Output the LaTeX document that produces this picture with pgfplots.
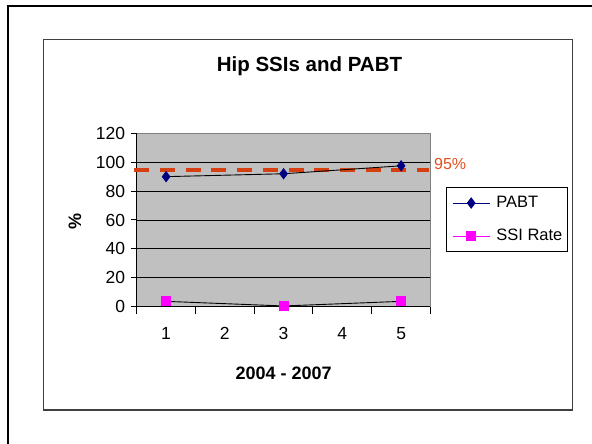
\documentclass[border=0pt]{standalone}
\usepackage{pgfplots}
\pgfplotsset{compat=1.18}
\usepackage{fontspec}
\setmainfont{Liberation Sans}
\definecolor{plotbg}{RGB}{192,192,192}
\definecolor{navy}{RGB}{0,0,128}
\definecolor{pmag}{RGB}{255,0,255}
\definecolor{dashred}{RGB}{214,64,16}
\definecolor{labred}{RGB}{226,80,32}
\definecolor{framegray}{RGB}{64,64,64}
\definecolor{bordergray}{RGB}{128,128,128}
\begin{document}
\begin{tikzpicture}[x=1pt,y=1pt]
\useasboundingbox (0,0) rectangle (592,444);
\draw[line width=2.7pt] (8,-2) -- (8,438) -- (594,438);
\draw[framegray, line width=1.3pt] (43.3,34) rectangle (572.7,404.7);
\begin{axis}[
  at={(136.7pt,137.3pt)}, anchor=south west,
  scale only axis, width=293.8pt, height=173.4pt,
  xmin=0.5, xmax=5.5, ymin=0, ymax=120,
  clip=false,
  axis lines*=left,
  axis line style={black, line width=1pt},
  axis background/.style={fill=plotbg},
  xtick={1,2,3,4,5},
  minor xtick={0.5,1.5,2.5,3.5,4.5,5.5},
  ytick={0,20,40,60,80,100,120},
  tick align=outside,
  major tick length=6pt, minor tick length=7pt,
  every major x tick/.append style={draw=none},
  tick style={black, line width=1pt},
  ymajorgrids,
  major grid style={black, line width=0.9pt},
  /pgf/number format/assume math mode=true,
  ticklabel style={font=\fontsize{17.5}{20}\selectfont},
  xticklabel style={yshift=-11pt, text height=12.5pt, text depth=0pt},
  yticklabel style={xshift=-2pt},
  title={Hip SSIs and PABT},
  title style={at={(axis description cs:0.588,1.323)}, anchor=base, font=\fontsize{20.5}{24}\selectfont\bfseries},
  xlabel={2004 - 2007},
  xlabel style={at={(axis description cs:0.5,-0.417)}, anchor=base, font=\fontsize{18}{21}\selectfont\bfseries},
  ylabel={\%},
  ylabel style={at={(axis description cs:-0.21,0.49)}, anchor=center, font=\fontsize{18}{21}\selectfont\bfseries},
  legend cell align=left,
  legend image code/.code={\draw[mark repeat=2,mark phase=2] plot coordinates {(0pt,0pt) (18.7pt,0pt) (37.4pt,0pt)};},
  legend style={at={(1.0528,0.6886)}, anchor=north west, draw=black, line width=1pt, fill=white,
    font=\fontsize{16.5}{19}\selectfont,
    inner xsep=5.5pt, inner ysep=7.5pt, row sep=17.5pt,
    nodes={inner sep=0pt, text height=12pt, text depth=3.5pt},
    /tikz/every odd column/.append style={column sep=6pt}},
]
\addplot[dashred, line width=3.5pt, dash pattern=on 15pt off 10.7pt, forget plot] coordinates {(0.46,94.7) (5.47,94.7)};
\addplot[black, line width=0.9pt, mark=diamond*, mark size=5pt, mark options={fill=navy, draw=navy, solid}, forget plot] coordinates {(1,90) (3,92) (5,97.5)};
\addplot[black, line width=0.9pt, mark=square*, mark size=4.5pt, mark options={fill=pmag, draw=pmag, solid}, forget plot] coordinates {(1,3.7) (3,0.5) (5,3.7)};
\addlegendimage{navy, line width=1pt, mark=diamond*, mark size=5pt, mark options={fill=navy, draw=navy}}
\addlegendentry{PABT}
\addlegendimage{pmag, line width=1pt, mark=square*, mark size=4.5pt, mark options={fill=pmag, draw=pmag}}
\addlegendentry{SSI Rate}
\draw[bordergray, line width=1pt] (rel axis cs:0,1) -- (rel axis cs:1,1) -- (rel axis cs:1,0);
\node[anchor=base west, inner sep=0pt, xshift=3.5pt, text=labred, font=\fontsize{16}{19}\selectfont] at (axis cs:5.5,95.1) {95\%};
\end{axis}
\end{tikzpicture}
\end{document}
